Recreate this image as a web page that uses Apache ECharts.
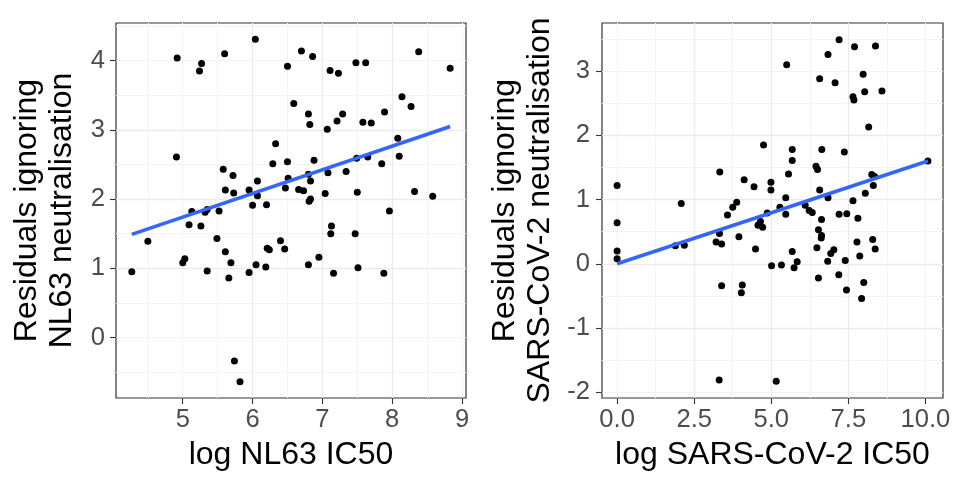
<!DOCTYPE html>
<html>
<head>
<meta charset="utf-8">
<script src="https://cdn.jsdelivr.net/npm/echarts@6/dist/echarts.min.js"></script>
<style>
html,body{margin:0;padding:0;background:#fff;}
#chart{width:955px;height:477px;}
</style>
</head>
<body>
<div id="chart"></div>
<script>
// ---- Left panel: NL63 ----
const nl63IC50 = [
  4.92,5.27,5.24,5.60,6.04,6.50,6.70,6.86,7.11,7.23,7.48,7.62,8.38,8.83,
  6.59,6.80,6.82,7.07,7.21,7.29,7.58,7.70,7.89,8.14,8.27,
  4.91,8.08,8.10,6.33,6.29,6.50,6.88,7.49,7.65,7.85,
  5.58,5.72,7.08,7.34,
  5.61,5.73,5.95,6.07,6.07,6.47,6.51,6.66,6.73,6.80,6.83,
  7.04,7.50,8.32,8.58,6.00,6.20,
  4.27,4.50,5.00,5.03,5.09,5.13,5.26,5.32,5.35,5.52,5.49,5.61,5.69,5.35,5.66,5.95,6.05,6.19,6.21,6.24,6.40,6.46,6.81,6.83,6.80,6.95,7.13,7.12,7.16,7.47,7.51,7.88,7.96,5.74,5.82
];
const nl63Resid = [
  4.04,3.96,3.85,4.10,4.31,3.92,4.14,4.06,3.86,3.82,3.97,3.97,4.13,3.89,
  3.38,3.23,3.08,3.01,3.13,3.23,3.11,3.10,3.26,3.48,3.34,
  2.61,2.88,2.62,2.80,2.51,2.54,2.56,2.59,2.61,2.51,
  2.43,2.34,2.38,2.40,
  2.13,2.09,2.13,2.26,2.05,2.16,2.30,2.14,2.12,2.36,2.26,
  2.08,2.10,2.11,2.04,1.91,1.92,
  0.95,1.39,1.08,1.14,1.63,1.82,1.61,1.81,1.85,1.83,1.43,1.24,1.08,0.96,0.86,0.94,1.05,1.02,1.29,1.27,1.40,1.28,1.97,2.00,1.05,1.16,1.61,1.50,0.93,1.50,1.01,0.93,1.83,-0.34,-0.64
];
const nl63FitX = [4.27, 8.83];
const nl63FitY = [1.49, 3.05];
const nl63XTicks = [5, 6, 7, 8, 9];
const nl63YTicks = [0, 1, 2, 3, 4];

// ---- Right panel: SARS-CoV-2 ----
const sarsIC50 = [
  0.0,2.08,3.33,4.12,4.44,4.75,4.99,4.99,5.47,5.50,5.56,5.68,5.68,6.45,6.50,6.57,6.64,6.57,6.84,6.84,7.07,7.20,7.37,7.65,7.70,7.65,7.68,7.98,8.03,8.38,8.59,8.16,8.26,8.35,8.31,8.05,10.08,
  0,0,0,1.89,2.18,3.32,3.21,3.39,3.58,3.75,3.88,3.95,4.49,4.57,4.65,4.72,4.87,5.01,5.33,5.28,5.47,5.68,5.74,5.84,6.10,6.23,6.33,6.63,6.53,6.63,6.62,6.48,6.53,6.83,6.93,7.03,7.20,7.19,7.45,7.40,7.44,7.81,7.78,7.87,8.00,7.93,8.29,8.37,3.39,4.06,4.03,3.31,5.16
];
const sarsResid = [
  1.22,0.94,1.43,1.31,1.20,1.85,1.27,1.15,1.03,3.10,1.40,1.78,1.61,1.52,1.47,2.88,1.78,1.15,3.26,1.03,2.82,3.49,1.74,0.98,3.38,2.60,2.55,2.95,2.68,3.39,2.69,2.13,1.39,1.36,1.22,1.10,1.60,
  0.64,0.20,0.08,0.28,0.29,0.47,0.34,0.31,0.76,0.88,0.96,0.42,0.23,0.60,0.66,0.57,0.79,-0.03,-0.02,0.88,0.77,0.19,-0.06,0.03,0.91,0.83,0.80,0.69,0.53,0.44,0.40,0.25,-0.22,0.04,0.16,0.22,0.77,-0.17,0.78,0.05,-0.41,0.71,0.34,0.12,-0.29,-0.54,0.38,0.23,-0.34,-0.33,-0.45,-1.81,-1.83
];
const sarsFitX = [0.0, 10.08];
const sarsFitY = [0.0, 1.60];
const sarsXTicks = [0, 2.5, 5, 7.5, 10];
const sarsXTickLabels = ['0.0', '2.5', '5.0', '7.5', '10.0'];
const sarsYTicks = [-2, -1, 0, 1, 2, 3];

const zip = (a, b) => a.map((v, i) => [v, b[i]]);

const FONT = '"Liberation Sans", Arial, Helvetica, sans-serif';
const TICK_FS = 25.6, TITLE_FS = 32;
const MAJOR = '#EBEBEB', MINOR = '#F3F3F3', INK = '#333333', LABEL = '#4D4D4D';

function minorAxis(gridIndex, position, min, max, step) {
  return {
    type: 'value', gridIndex, position, min, max, minInterval: step, maxInterval: step,
    axisLine: {show: false, onZero: false}, axisTick: {show: false}, axisLabel: {show: false},
    splitLine: {show: true, showMinLine: false, showMaxLine: false, lineStyle: {color: MINOR, width: 1}}
  };
}
function mainAxis(gridIndex, position, min, max, step, ticks, labels, name, nameGap, labelMargin) {
  return {
    type: 'value', gridIndex, position, min, max, minInterval: step, maxInterval: step,
    name, nameLocation: 'middle', nameGap,
    nameTextStyle: {fontSize: TITLE_FS, color: '#000', fontFamily: FONT, lineHeight: 35},
    axisLine: {show: false, onZero: false},
    axisTick: {show: true, length: 6, customValues: ticks, lineStyle: {color: INK, width: 1.1}},
    axisLabel: {
      show: true, customValues: ticks, fontSize: TICK_FS, color: LABEL, fontFamily: FONT, margin: labelMargin,
      formatter: v => { const i = ticks.findIndex(t => Math.abs(t - v) < 1e-6); return i < 0 ? '' : labels[i]; }
    },
    splitLine: {show: true, showMinLine: false, showMaxLine: false, lineStyle: {color: MAJOR, width: 1.3}}
  };
}

const L = {xmin: 4.044, xmax: 9.057, ymin: -0.874, ymax: 4.545};
const R = {xmin: -0.49, xmax: 10.57, ymin: -2.09, ymax: 3.75};

const option = {
  animation: false,
  backgroundColor: '#ffffff',
  textStyle: {fontFamily: FONT},
  grid: [
    {left: 116, top: 23, width: 350, height: 375, show: true, borderColor: INK, borderWidth: 1.2,
      backgroundColor: 'transparent', containLabel: false, outerBoundsMode: 'none'},
    {left: 602, top: 23, width: 341, height: 375, show: true, borderColor: INK, borderWidth: 1.2,
      backgroundColor: 'transparent', containLabel: false, outerBoundsMode: 'none'}
  ],
  xAxis: [
    minorAxis(0, 'top', L.xmin, L.xmax, 0.5),
    mainAxis(0, 'bottom', L.xmin, L.xmax, 1, nl63XTicks, nl63XTicks.map(String), 'log NL63 IC50', 37, 9),
    minorAxis(1, 'top', R.xmin, R.xmax, 1.25),
    mainAxis(1, 'bottom', R.xmin, R.xmax, 2.5, sarsXTicks, sarsXTickLabels, 'log SARS-CoV-2 IC50', 37, 9)
  ],
  yAxis: [
    minorAxis(0, 'right', L.ymin, L.ymax, 0.5),
    mainAxis(0, 'left', L.ymin, L.ymax, 1, nl63YTicks, nl63YTicks.map(String), 'Residuals ignoring\nNL63 neutralisation', 36, 11),
    minorAxis(1, 'right', R.ymin, R.ymax, 0.5),
    mainAxis(1, 'left', R.ymin, R.ymax, 1, sarsYTicks, sarsYTicks.map(String), 'Residuals ignoring\nSARS-CoV-2 neutralisation', 44, 12)
  ],
  series: [
    {type: 'scatter', xAxisIndex: 1, yAxisIndex: 1, data: zip(nl63IC50, nl63Resid), symbolSize: 7,
      itemStyle: {color: '#000', opacity: 1}, emphasis: {disabled: true}, z: 2},
    {type: 'line', xAxisIndex: 1, yAxisIndex: 1, data: zip(nl63FitX, nl63FitY), showSymbol: false, symbol: 'none',
      lineStyle: {color: '#3366FF', width: 3.6}, emphasis: {disabled: true}, z: 3},
    {type: 'scatter', xAxisIndex: 3, yAxisIndex: 3, data: zip(sarsIC50, sarsResid), symbolSize: 7,
      itemStyle: {color: '#000', opacity: 1}, emphasis: {disabled: true}, z: 2},
    {type: 'line', xAxisIndex: 3, yAxisIndex: 3, data: zip(sarsFitX, sarsFitY), showSymbol: false, symbol: 'none',
      lineStyle: {color: '#3366FF', width: 3.6}, emphasis: {disabled: true}, z: 3}
  ]
};

const chart = echarts.init(document.getElementById('chart'), null, {renderer: 'canvas'});
chart.setOption(option);
</script>
</body>
</html>
